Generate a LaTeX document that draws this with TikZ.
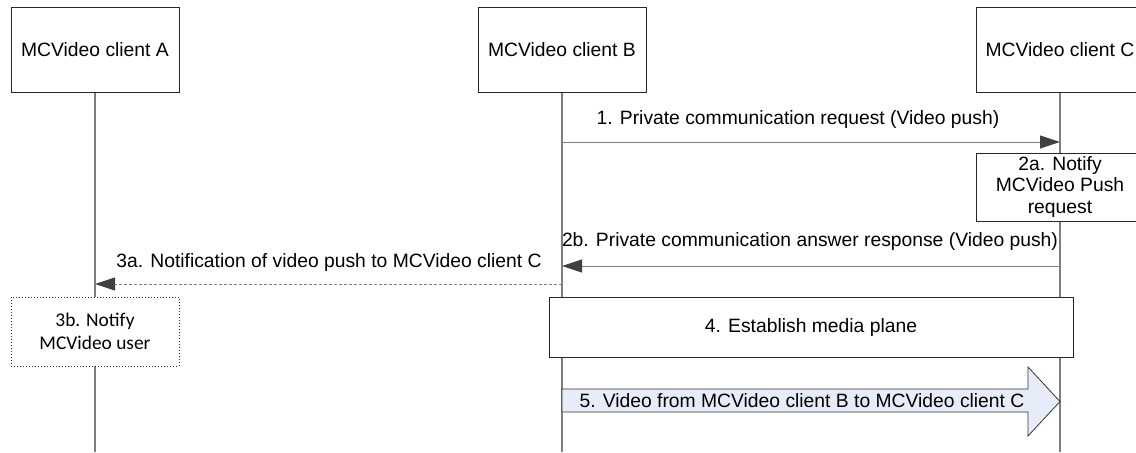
\documentclass[tikz,border=0pt]{standalone}
\usepackage{fontspec}
\setmainfont{Liberation Sans}
\newfontfamily\notefont{Carlito}
\usetikzlibrary{positioning, arrows.meta}
\definecolor{LineGray}{HTML}{7F7F7F}
\definecolor{HeadGray}{HTML}{404040}
\definecolor{PushBlue}{HTML}{E6ECF8}

\begin{document}
\begin{tikzpicture}[x=0.5pt, y=-0.5pt,
    font=\fontsize{9.65}{10.8}\selectfont,
    client/.style={draw=black!85, fill=white, line width=0.5pt,
        minimum width=84pt, minimum height=42.5pt, inner sep=0pt},
    lifeline/.style={draw=LineGray, line width=0.7pt},
    actionbox/.style={draw=black!85, fill=white, line width=0.5pt,
        align=center, inner sep=0pt},
    msg/.style={draw=LineGray, line width=0.5pt,
        -{Triangle[length=10pt, width=6.5pt, color=HeadGray]}},
    notemsg/.style={msg, dash pattern=on 1.5pt off 1pt},
    pusharrow/.style={draw=black!80, fill=PushBlue, line width=0.4pt}]

      % --- Frame ---
      \clip (0,0) rectangle (1136,452);

      % --- Clients ---
      \node[client] (ca) at (95,49.5)   {MCVideo client A};
      \node[client] (cb) at (562,49.5)  {MCVideo client B};
      \node[client] (cc) at (1060,49.5) {MCVideo client C};

      % --- Lifelines ---
      \coordinate (ea) at (95,452);
      \coordinate (eb) at (562,452);
      \coordinate (ec) at (1060,452);
      \draw[lifeline] (ca.south) -- (ea);
      \draw[lifeline] (cb.south) -- (eb);
      \draw[lifeline] (cc.south) -- (ec);

      % --- Message points on the lifelines ---
      \coordinate (b1) at (562,142);
      \coordinate (c1) at (1060,142);
      \coordinate (c2) at (1060,266);
      \coordinate (b2) at (562,266);
      \coordinate (b3) at (562,284);
      \coordinate (a3) at (95,284);

      % 1. request from B to C
      \draw[msg] (b1) -- (c1);
      \node (l1) at (798,120) {1. Private communication request (Video push)};

      % 2a. notification at C
      \node[actionbox, minimum width=84pt, minimum height=34pt] (n2a) at (1060,187)
          {2a. Notify\\MCVideo Push\\request};

      % 2b. answer from C to B
      \draw[msg] (c2) -- (b2);
      \node (l2b) at (810,241) {2b. Private communication answer response (Video push)};

      % 3a. notification from B to A (dashed)
      \draw[notemsg] (b3) -- (a3);
      \node (l3a) at (329,262) {3a. Notification of video push to MCVideo client C};

      % 3b. notify the user at A (dotted box)
      \node[actionbox, densely dotted, minimum width=84pt, minimum height=34.5pt,
            font=\notefont\fontsize{9.7}{11.5}\selectfont] (n3b) at (95,331.5)
          {3b. Notify\\MCVideo user};

      % 4. media plane between B and C
      \node[actionbox, minimum width=262pt, minimum height=30pt] (n4) at (811,327)
          {4. Establish media plane};

      % 5. video push from B to C (block arrow)
      \draw[pusharrow] (562,389) -- (1028,389) -- (1028,367) -- (1060,401.5)
          -- (1028,436) -- (1028,412) -- (562,412) -- cycle;
      \node (l5) at (802,401) {5. Video from MCVideo client B to MCVideo client C};
  \end{tikzpicture}
\end{document}
